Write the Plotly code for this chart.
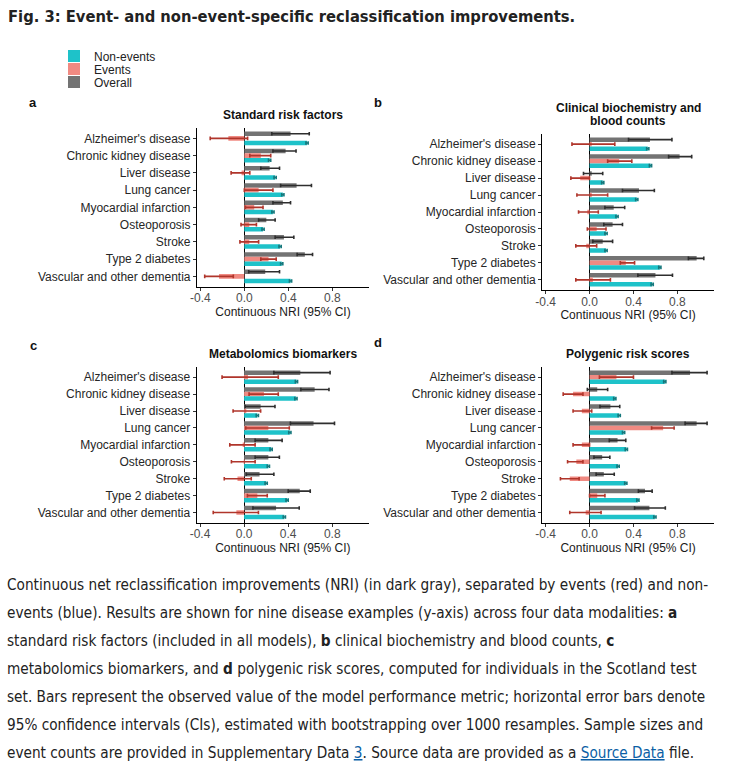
import plotly.graph_objects as go

W, H = 739, 772

diseases = ["Alzheimer's disease", "Chronic kidney disease", "Liver disease", "Lung cancer",
            "Myocardial infarction", "Osteoporosis", "Stroke", "Type 2 diabetes",
            "Vascular and other dementia"]

panel_titles = ["Standard risk factors", "Clinical biochemistry and<br>blood counts",
                "Metabolomics biomarkers", "Polygenic risk scores"]
panel_letters = ["a", "b", "c", "d"]

# ---- a: Standard risk factors
a_overall = [0.42, 0.375, 0.23, 0.475, 0.35, 0.20, 0.36, 0.55, 0.19]
a_overall_lo = [0.25, 0.26, 0.15, 0.33, 0.26, 0.13, 0.28, 0.48, 0.04]
a_overall_hi = [0.59, 0.47, 0.32, 0.61, 0.42, 0.28, 0.45, 0.62, 0.32]
a_events = [-0.145, 0.15, -0.025, 0.13, 0.09, 0.045, 0.045, 0.22, -0.23]
a_events_lo = [-0.31, 0.05, -0.12, 0.0, 0.01, -0.03, -0.04, 0.15, -0.36]
a_events_hi = [0.03, 0.24, 0.05, 0.26, 0.17, 0.11, 0.13, 0.29, -0.10]
a_non = [0.57, 0.23, 0.28, 0.35, 0.26, 0.17, 0.325, 0.34, 0.42]
a_non_lo = [0.56, 0.22, 0.27, 0.34, 0.25, 0.16, 0.315, 0.33, 0.41]
a_non_hi = [0.58, 0.24, 0.29, 0.36, 0.27, 0.18, 0.335, 0.35, 0.43]

# ---- b: Clinical biochemistry and blood counts
b_overall = [0.55, 0.82, 0.02, 0.45, 0.22, 0.21, 0.12, 0.975, 0.60]
b_overall_lo = [0.355, 0.72, -0.055, 0.30, 0.14, 0.13, 0.03, 0.90, 0.44]
b_overall_hi = [0.75, 0.93, 0.12, 0.59, 0.32, 0.30, 0.21, 1.04, 0.755]
b_events = [0.02, 0.27, -0.085, 0.02, -0.02, 0.065, -0.03, 0.33, 0.03]
b_events_lo = [-0.16, 0.165, -0.17, -0.115, -0.10, -0.02, -0.125, 0.28, -0.125]
b_events_hi = [0.23, 0.385, 0.0, 0.165, 0.08, 0.15, 0.065, 0.41, 0.19]
b_non = [0.53, 0.555, 0.12, 0.43, 0.25, 0.15, 0.15, 0.64, 0.57]
b_non_lo = [0.52, 0.545, 0.11, 0.42, 0.24, 0.14, 0.14, 0.63, 0.56]
b_non_hi = [0.54, 0.565, 0.13, 0.44, 0.26, 0.16, 0.16, 0.65, 0.58]

# ---- c: Metabolomics biomarkers
c_overall = [0.51, 0.64, 0.15, 0.63, 0.22, 0.22, 0.14, 0.505, 0.29]
c_overall_lo = [0.27, 0.515, 0.01, 0.42, 0.10, 0.10, 0.02, 0.40, 0.08]
c_overall_hi = [0.78, 0.77, 0.28, 0.82, 0.345, 0.32, 0.27, 0.60, 0.50]
c_events = [0.035, 0.18, 0.02, 0.22, -0.01, 0.005, -0.06, 0.12, -0.07]
c_events_lo = [-0.20, 0.045, -0.10, 0.015, -0.13, -0.115, -0.18, 0.03, -0.28]
c_events_hi = [0.31, 0.31, 0.15, 0.41, 0.10, 0.10, 0.065, 0.21, 0.13]
c_non = [0.475, 0.47, 0.12, 0.415, 0.245, 0.22, 0.20, 0.39, 0.365]
c_non_lo = [0.465, 0.46, 0.11, 0.405, 0.235, 0.21, 0.19, 0.38, 0.355]
c_non_hi = [0.485, 0.48, 0.13, 0.425, 0.255, 0.23, 0.21, 0.40, 0.375]

# ---- d: Polygenic risk scores
d_overall = [0.915, 0.07, 0.19, 0.975, 0.255, 0.115, 0.13, 0.505, 0.545]
d_overall_lo = [0.75, -0.02, 0.095, 0.87, 0.18, 0.04, 0.06, 0.445, 0.41]
d_overall_hi = [1.07, 0.165, 0.275, 1.07, 0.33, 0.185, 0.225, 0.57, 0.69]
d_events = [0.245, -0.15, -0.07, 0.67, -0.07, -0.12, -0.18, 0.07, -0.035]
d_events_lo = [0.09, -0.24, -0.15, 0.565, -0.15, -0.20, -0.265, 0.0, -0.18]
d_events_hi = [0.40, -0.06, 0.02, 0.77, 0.0, -0.06, -0.095, 0.14, 0.105]
d_non = [0.685, 0.23, 0.27, 0.31, 0.335, 0.26, 0.33, 0.44, 0.595]
d_non_lo = [0.675, 0.22, 0.26, 0.30, 0.325, 0.25, 0.32, 0.43, 0.585]
d_non_hi = [0.695, 0.24, 0.28, 0.32, 0.345, 0.27, 0.34, 0.45, 0.605]

x_tick_vals = [-0.4, 0.0, 0.4, 0.8]
x_tick_text = ["-0.4", "0.0", "0.4", "0.8"]
x_title = "Continuous NRI (95% CI)"

fig_title = "Fig. 3: Event- and non-event-specific reclassification improvements."
caption_lines = [
    "Continuous net reclassification improvements (NRI) (in dark gray), separated by events (red) and non-",
    "events (blue). Results are shown for nine disease examples (y-axis) across four data modalities: <b>a</b>",
    "standard risk factors (included in all models), <b>b</b> clinical biochemistry and blood counts, <b>c</b>",
    "metabolomics biomarkers, and <b>d</b> polygenic risk scores, computed for individuals in the Scotland test",
    "set. Bars represent the observed value of the model performance metric; horizontal error bars denote",
    "95% confidence intervals (CIs), estimated with bootstrapping over 1000 resamples. Sample sizes and",
    "event counts are provided in Supplementary Data <span style='color:#0b5fa5;text-decoration:underline'>3</span>. Source data are provided as a <span style='color:#0b5fa5;text-decoration:underline'>Source Data</span> file.",
]

panels = [
    (a_overall, a_overall_lo, a_overall_hi, a_events, a_events_lo, a_events_hi, a_non, a_non_lo, a_non_hi),
    (b_overall, b_overall_lo, b_overall_hi, b_events, b_events_lo, b_events_hi, b_non, b_non_lo, b_non_hi),
    (c_overall, c_overall_lo, c_overall_hi, c_events, c_events_lo, c_events_hi, c_non, c_non_lo, c_non_hi),
    (d_overall, d_overall_lo, d_overall_hi, d_events, d_events_lo, d_events_hi, d_non, d_non_lo, d_non_hi),
]

# layout (pixels): plot-area boxes  (left, right, top, bottom)
boxes = [(197, 369, 128, 286.7), (542.3, 714, 134, 290),
         (196.7, 369, 367, 522.7), (542.3, 714, 367, 522.7)]
title_pos = [(283, 115), (628, 114.5), (283, 354), (628, 354)]
letter_pos = [(33, 102), (378, 102), (33, 345), (378, 342)]

SANS = "Liberation Sans, Arial, Helvetica, sans-serif"
NARROW = "Liberation Sans Narrow, Arial Narrow, DejaVu Sans Condensed, sans-serif"

COL = {
    "Overall": ("#737373", "#2e2e2e", "legend3"),
    "Events": ("#F08A82", "#B0352B", "legend2"),
    "Non-events": ("#1EC2C9", "#16787c", "legend"),
}


def px(x):
    return x / W


def py(y):
    return 1 - y / H


fig = go.Figure()

for i, p in enumerate(panels):
    ov, ovl, ovh, ev, evl, evh, nv, nvl, nvh = p
    xa = "x" if i == 0 else f"x{i+1}"
    ya = "y" if i == 0 else f"y{i+1}"
    series = [("Overall", ov, ovl, ovh), ("Events", ev, evl, evh), ("Non-events", nv, nvl, nvh)]
    for name, v, lo, hi in series:
        fill, ecol, leg = COL[name]
        fig.add_trace(go.Bar(
            y=diseases, x=v, orientation="h", name=name,
            marker=dict(color=fill, line=dict(width=0)),
            error_x=dict(type="data", symmetric=False,
                         array=[h - m for h, m in zip(hi, v)],
                         arrayminus=[m - l for m, l in zip(v, lo)],
                         color=ecol, thickness=1.6, width=1.8),
            xaxis=xa, yaxis=ya, showlegend=(i == 0), legend=leg,
        ))

layout = dict(
    width=W, height=H, margin=dict(l=0, r=0, t=0, b=0, autoexpand=False),
    paper_bgcolor="white", plot_bgcolor="white",
    barmode="group", bargap=0.2, bargroupgap=0.0,
    font=dict(family=SANS, size=12, color="#222222"),
)

for i, (l, r, t, b) in enumerate(boxes):
    sx = "" if i == 0 else str(i + 1)
    layout["xaxis" + sx] = dict(
        domain=[px(l), px(r)], anchor="y" + sx, range=[-0.43, 1.133],
        tickvals=x_tick_vals, ticktext=x_tick_text, automargin=False,
        showline=True, linecolor="black", linewidth=1.2,
        ticks="outside", ticklen=3, tickwidth=1, tickcolor="#333333",
        tickfont=dict(size=12, color="#4D4D4D", family=SANS), ticklabelstandoff=-3,
        showgrid=False, zeroline=True, zerolinecolor="black", zerolinewidth=1.4,
        title=dict(text=x_title, font=dict(size=12, color="#1a1a1a", family=SANS), standoff=0),
        fixedrange=True,
    )
    layout["yaxis" + sx] = dict(
        domain=[py(b), py(t)], anchor="x" + sx, type="category", automargin=False,
        categoryorder="array", categoryarray=diseases, range=[8.6, -0.6],
        showline=True, linecolor="black", linewidth=1.2,
        ticks="outside", ticklen=3, tickwidth=1, tickcolor="#333333",
        tickfont=dict(size=12, color="#262626", family=SANS),
        showgrid=False, zeroline=False, fixedrange=True,
    )

leg_common = dict(
    xanchor="left", yanchor="middle", bgcolor="rgba(0,0,0,0)",
    font=dict(size=12, color="#222222", family=SANS), itemwidth=30,
    borderwidth=0, tracegroupgap=0, itemclick=False, itemdoubleclick=False,
)
layout["legend"] = dict(x=px(54), y=py(56), **leg_common)
layout["legend2"] = dict(x=px(54), y=py(69), **leg_common)
layout["legend3"] = dict(x=px(54), y=py(82), **leg_common)

ann = []
ann.append(dict(text="<b>" + fig_title + "</b>", x=px(6), y=py(17), xref="paper", yref="paper",
                xanchor="left", yanchor="middle", showarrow=False,
                font=dict(size=16.4, color="#222222", family=NARROW)))
for i in range(4):
    tx, ty = title_pos[i]
    tlines = panel_titles[i].split("<br>")
    n = len(tlines)
    for j, tl in enumerate(tlines):
        yy = ty + (j - (n - 1) / 2) * 13.5
        ann.append(dict(text="<b>" + tl + "</b>", x=px(tx), y=py(yy), xref="paper",
                        yref="paper", xanchor="center", yanchor="middle", showarrow=False,
                        borderpad=0, font=dict(size=12, color="#111111", family=SANS)))
    lx, ly = letter_pos[i]
    ann.append(dict(text="<b>" + panel_letters[i] + "</b>", x=px(lx), y=py(ly), xref="paper",
                    yref="paper", xanchor="center", yanchor="middle", showarrow=False,
                    font=dict(size=13, color="#111111", family=SANS)))
cap_y0, cap_dy = 585, 28
for k, line in enumerate(caption_lines):
    ann.append(dict(text=line, x=px(5), y=py(cap_y0 + k * cap_dy), xref="paper", yref="paper",
                    xanchor="left", yanchor="middle", showarrow=False,
                    font=dict(size=15.2, color="#222222", family=NARROW)))
layout["annotations"] = ann

fig.update_layout(**layout)
fig.write_html("out.html", config={"displayModeBar": False},
               post_script="document.body.style.margin='0';document.body.style.overflow='hidden';")
